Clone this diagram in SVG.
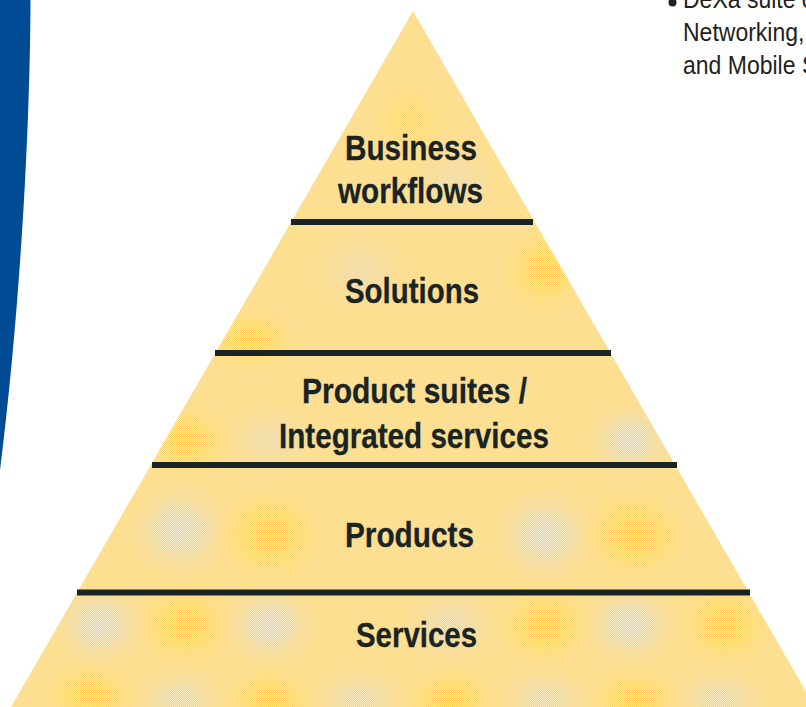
<svg xmlns="http://www.w3.org/2000/svg" width="806" height="707" viewBox="0 0 806 707">
<style>
.lbl{font-family:"Liberation Sans",Arial,sans-serif;font-weight:700;font-size:35px;fill:#1a2424;stroke:#1a2424;stroke-width:.3}
.body{font-family:"Liberation Sans",Arial,sans-serif;font-size:25px;fill:#231f20}
.rule{stroke:#1a2424;stroke-width:6;fill:none}
</style>
<defs>
<pattern id="chk" width="2" height="2" patternUnits="userSpaceOnUse">
<rect width="2" height="2" fill="#ffffff"/>
<rect width="1" height="1" fill="#fcc030"/>
<rect x="1" y="1" width="1" height="1" fill="#fcc030"/>
</pattern>
<pattern id="chk2" width="2" height="2" patternUnits="userSpaceOnUse">
<rect width="2" height="2" fill="#f4f2ea"/>
<rect x="1" width="1" height="1" fill="#fcc838"/>
<rect y="1" width="1" height="1" fill="#fcc838"/>
</pattern>
<radialGradient id="m"><stop offset="0" stop-color="#d8d8d8"/><stop offset=".35" stop-color="#8c8c8c"/><stop offset=".7" stop-color="#2a2a2a"/><stop offset="1" stop-color="#000"/></radialGradient>
<mask id="my" maskUnits="userSpaceOnUse" x="0" y="0" width="806" height="707">
<g fill="url(#m)">
<ellipse cx="270" cy="535" rx="56" ry="50"/>
<ellipse cx="635" cy="535" rx="56" ry="50"/>
<ellipse cx="185" cy="625" rx="50" ry="44"/>
<ellipse cx="545" cy="625" rx="50" ry="44"/>
<ellipse cx="725" cy="625" rx="50" ry="44"/>
<ellipse cx="90" cy="695" rx="48" ry="34"/>
<ellipse cx="270" cy="700" rx="48" ry="34"/>
<ellipse cx="450" cy="700" rx="48" ry="34"/>
<ellipse cx="635" cy="700" rx="48" ry="34"/>
<ellipse cx="185" cy="440" rx="48" ry="40"/>
<ellipse cx="545" cy="270" rx="46" ry="46"/>
<ellipse cx="250" cy="340" rx="48" ry="34"/>
<ellipse cx="410" cy="120" rx="44" ry="42" opacity=".45"/>
</g>
</mask>
<mask id="mg" maskUnits="userSpaceOnUse" x="0" y="0" width="806" height="707">
<g fill="url(#m)">
<ellipse cx="180" cy="530" rx="52" ry="48"/>
<ellipse cx="545" cy="535" rx="52" ry="48"/>
<ellipse cx="100" cy="625" rx="48" ry="42"/>
<ellipse cx="270" cy="625" rx="48" ry="42"/>
<ellipse cx="630" cy="625" rx="48" ry="42"/>
<ellipse cx="450" cy="625" rx="48" ry="42" opacity=".6"/>
<ellipse cx="180" cy="700" rx="48" ry="34" opacity=".7"/>
<ellipse cx="360" cy="700" rx="48" ry="34" opacity=".7"/>
<ellipse cx="545" cy="700" rx="48" ry="34" opacity=".7"/>
<ellipse cx="720" cy="700" rx="48" ry="34" opacity=".7"/>
<ellipse cx="270" cy="440" rx="48" ry="38" opacity=".5"/>
<ellipse cx="630" cy="440" rx="44" ry="38"/>
<ellipse cx="360" cy="270" rx="48" ry="44" opacity=".45"/>
<ellipse cx="455" cy="180" rx="42" ry="38" opacity=".45"/>
</g>
</mask>
<clipPath id="tri"><polygon points="413,11 11,707 815,707"/></clipPath>
</defs>
<path id="band" d="M0,0H30.500C30,130 20,310 0,470Z" fill="#004b93"/>
<g id="pyramid">
<polygon points="413,11 11,707 815,707" fill="#fddf92"/>
<g clip-path="url(#tri)">
<rect width="806" height="707" fill="url(#chk)" mask="url(#my)"/>
<rect width="806" height="707" fill="url(#chk2)" mask="url(#mg)"/>
</g>
</g>
<g id="connectors">
<line class="rule" x1="291" y1="222" x2="533" y2="222"/>
<line class="rule" x1="215" y1="353" x2="611" y2="353"/>
<line class="rule" x1="152" y1="465" x2="677" y2="465"/>
<line class="rule" x1="77" y1="592.500" x2="750" y2="592.500"/>
</g>
<g id="node-business-workflows">
<text class="lbl" x="345" y="160" textLength="132" lengthAdjust="spacingAndGlyphs">Business</text>
<text class="lbl" x="338" y="203" textLength="145" lengthAdjust="spacingAndGlyphs">workflows</text>
</g>
<g id="node-solutions">
<text class="lbl" x="345" y="303" textLength="134" lengthAdjust="spacingAndGlyphs">Solutions</text>
</g>
<g id="node-product-suites">
<text class="lbl" x="302" y="403" textLength="225" lengthAdjust="spacingAndGlyphs">Product suites /</text>
<text class="lbl" x="279" y="448" textLength="270" lengthAdjust="spacingAndGlyphs">Integrated services</text>
</g>
<g id="node-products">
<text class="lbl" x="345" y="547" textLength="129" lengthAdjust="spacingAndGlyphs">Products</text>
</g>
<g id="node-services">
<text class="lbl" x="356" y="647" textLength="121" lengthAdjust="spacingAndGlyphs">Services</text>
</g>
<g id="bullet-text">
<circle cx="672.500" cy="2.500" r="4" fill="#231f20"/>
<text class="body" transform="translate(683 8) scale(.92 1)">DeXa suite o</text>
<text class="body" transform="translate(683 41) scale(.92 1)">Networking,</text>
<text class="body" transform="translate(683 74) scale(.92 1)">and Mobile S</text>
</g>
</svg>
